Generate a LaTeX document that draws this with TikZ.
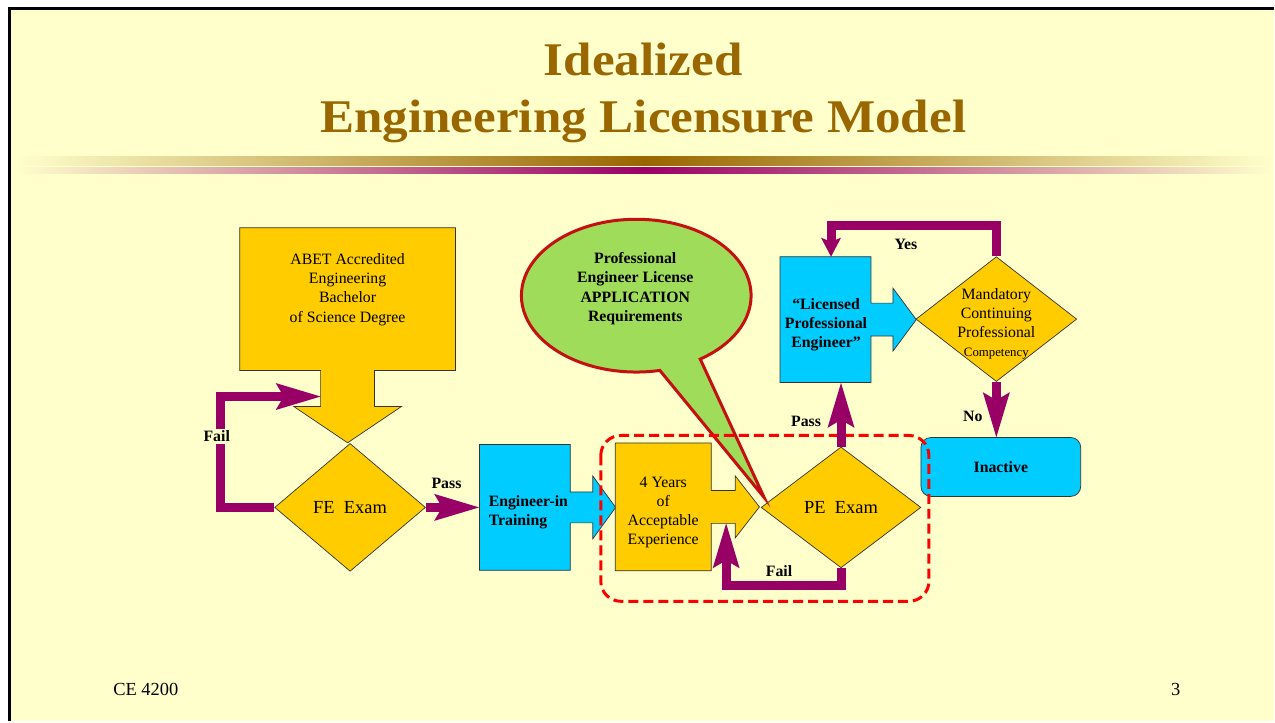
\documentclass[tikz,border=0pt]{standalone}
\usepackage{fontspec}
\setmainfont{Liberation Serif}
\newfontfamily\titlefont[FakeStretch=1.09]{Liberation Serif}
\usepackage{tikz}
\usetikzlibrary{positioning}
\usetikzlibrary{shapes, arrows.meta}

\definecolor{slidebg}{HTML}{FFFFCC}
\definecolor{boxorange}{HTML}{FFCC00}
\definecolor{boxcyan}{HTML}{00CCFF}
\definecolor{flowpurple}{HTML}{990066}
\definecolor{titlebrown}{HTML}{996600}
\definecolor{calloutgreen}{HTML}{9FDC5A}
\definecolor{calloutred}{HTML}{C41010}

\tikzset{
    flow/.style={draw=flowpurple, line width=0.18cm, -{Stealth[length=0.9cm, width=0.54cm, inset=0.16cm, line width=0pt]}},
    flowsmall/.style={draw=flowpurple, line width=0.18cm, -{Stealth[length=0.38cm, width=0.4cm, inset=0.08cm, line width=0pt]}},
    tag/.style={font=\fontsize{9}{10.9}\selectfont\bfseries, inner sep=1pt},
    boxtext/.style={font=\fontsize{9}{10.9}\selectfont, align=center, inner sep=0pt},
    decision/.style={diamond, draw=black!80, fill=boxorange, inner sep=0pt, font=\fontsize{10.5}{12}\selectfont},
    blockarrow/.style={arrow box, draw=black!80, inner sep=0pt}
}

\begin{document}
\begin{tikzpicture}[x=0.02cm, y=-0.02cm]
        \fill[white] (0,0) rectangle (1275,722);
        \fill[slidebg] (9.5,8.5) rectangle (1275,722);
        \draw[black, line width=0.06cm] (9.5,722) -- (9.5,8.5) -- (1275,8.5);
        \useasboundingbox (0,0) rectangle (1275,722);

        \node[anchor=base, inner sep=0pt, text=titlebrown, font=\titlefont\fontsize{26.7}{32}\selectfont\bfseries] (title1) at (644,76) {Idealized};
        \node[anchor=base, inner sep=0pt, text=titlebrown, font=\titlefont\fontsize{26.7}{32}\selectfont\bfseries] (title2) at (644,133) {Engineering Licensure Model};
        \shade[left color=slidebg, right color=slidebg, middle color=titlebrown] (15,157) rectangle (1275,166);
        \shade[left color=slidebg, right color=slidebg, middle color=flowpurple] (15,168) rectangle (1275,174);

        \node[blockarrow, fill=boxorange, minimum width=4.32cm, minimum height=2.86cm, arrow box arrows={south:1.44cm}, arrow box shaft width=1.08cm, arrow box head extend=0.54cm, arrow box tip angle=112] (abet) at (348,299.5) {};
        \node[boxtext] (abettxt) at (348,290) {ABET Accredited\\Engineering\\Bachelor\\of Science Degree};
        \node[decision, minimum width=3.02cm, minimum height=2.56cm] (fe) at (350.5,508) {FE\ \ Exam};
        \node[blockarrow, fill=boxcyan, minimum width=1.82cm, minimum height=2.52cm, arrow box arrows={east:0.9cm}, arrow box shaft width=0.62cm, arrow box head extend=0.32cm, arrow box tip angle=108] (eit) at (525.5,508) {};
        \node[boxtext, font=\fontsize{9}{10.9}\selectfont\bfseries, align=left] (eittxt) at (529,513) {Engineer-in\\Training};
        \node[blockarrow, fill=boxorange, minimum width=1.92cm, minimum height=2.56cm, arrow box arrows={east:0.96cm}, arrow box shaft width=0.66cm, arrow box head extend=0.29cm, arrow box tip angle=104] (yrs) at (664,507.5) {};
        \node[boxtext] (yrstxt) at (664,513) {4 Years\\of\\Acceptable\\Experience};
        \node[decision, minimum width=3.2cm, minimum height=2.42cm] (pe) at (842,508) {PE\ \ Exam};
        \node[blockarrow, fill=boxcyan, minimum width=1.82cm, minimum height=2.52cm, arrow box arrows={east:0.9cm}, arrow box shaft width=0.66cm, arrow box head extend=0.3cm, arrow box tip angle=107] (lpe) at (826.5,320) {};
        \node[boxtext, font=\fontsize{9}{10.9}\selectfont\bfseries] (lpetxt) at (827,325) {“Licensed\\Professional\\Engineer”};
        \node[decision, minimum width=3.22cm, minimum height=2.5cm] (mcp) at (997.5,319.5) {};
        \node[boxtext] (mcptxt) at (997.5,324) {Mandatory\\Continuing\\Professional\\{\fontsize{7.3}{10.9}\selectfont Competency}};
        \node[draw=black!80, fill=boxcyan, rounded corners=0.2cm, minimum width=3.2cm, minimum height=1.18cm, font=\fontsize{9}{10.9}\selectfont\bfseries] (inact) at (1002,467.5) {Inactive};

        \node[ellipse callout, draw=calloutred, line width=0.06cm, fill=calloutgreen, minimum width=4.6cm, minimum height=3.06cm, callout absolute pointer={(765,498)}, callout pointer arc=22] (req) at (637,296) {};
        \node[boxtext, font=\fontsize{9}{10.9}\selectfont\bfseries] (reqtxt) at (636,289) {Professional\\Engineer License\\APPLICATION\\Requirements};

        \draw[red, line width=0.06cm, dash pattern=on 0.2cm off 0.1cm, rounded corners=0.4cm] (601.5,436) rectangle (930,602);

        \coordinate (abetin) at (321,397);
        \coordinate (yrsin) at (727,524);
        \coordinate (lpein) at (832,257);
        \draw[flow] (fe.west) -- ++(-54,0) |- (abetin);
        \draw[flow] (fe.east) -- (eit.west);
        \draw[flow] (pe.south) -- ++(0,17) -| (yrsin);
        \draw[flow] (pe.north) -- (pe.north |- lpe.south);
        \draw[flowsmall] (mcp.north) -- ++(0,-30.5) -| (lpein);
        \draw[flow] (mcp.south) -- (mcp.south |- inact.north);

        \node[tag, fill=slidebg] (failfe) at (217,437) {Fail};
        \node[tag] (passfe) at (447,484) {Pass};
        \node[tag] (failpe) at (780,572) {Fail};
        \node[tag] (passpe) at (807,422) {Pass};
        \node[tag] (yes) at (907,245) {Yes};
        \node[tag] (no) at (974,417) {No};

        \node[font=\fontsize{10.5}{12}\selectfont] (course) at (146,690) {CE 4200};
        \node[font=\fontsize{10.5}{12}\selectfont] (pageno) at (1177,690) {3};
    \end{tikzpicture}
\end{document}
